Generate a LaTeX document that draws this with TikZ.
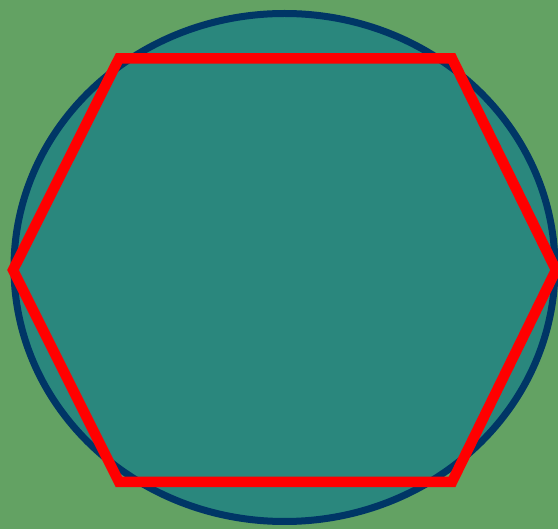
\documentclass[tikz,border=0pt]{standalone}
\definecolor{bggreen}{RGB}{99,162,99}
\definecolor{fillteal}{RGB}{42,135,125}
\definecolor{rimblue}{RGB}{0,54,102}
\definecolor{hexred}{RGB}{255,0,0}
\tikzset{
  rim/.style={draw=rimblue, line width=7pt, fill=fillteal},
  hexline/.style={draw=hexred, line width=10.5pt, line join=miter}
}
\begin{document}
\begin{tikzpicture}[x=1pt,y=-1pt]
\fill[bggreen] (0,0) rectangle (558,529);
\useasboundingbox (0,0) rectangle (558,529);
\draw[rim] (284.5,267.5) ellipse [x radius=270.5, y radius=254];
\coordinate (h1) at (13,270);
\coordinate (h2) at (119,58.5);
\coordinate (h3) at (452,58.5);
\coordinate (h4) at (556,270);
\coordinate (h5) at (452,482);
\coordinate (h6) at (119,482);
\draw[hexline] (h1) -- (h2) -- (h3) -- (h4) -- (h5) -- (h6) -- cycle;
\end{tikzpicture}
\end{document}
